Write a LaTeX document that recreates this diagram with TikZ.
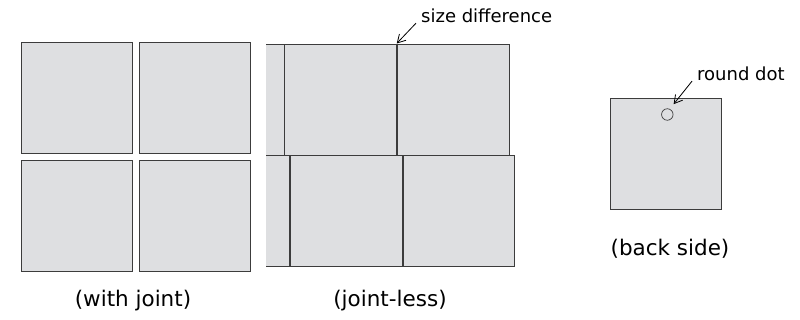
\documentclass[tikz,border=0pt]{standalone}
\usepackage{fontspec}
\setmainfont{DejaVu Sans}
\usepackage{xcolor}
\usepackage{tikz}
\usetikzlibrary{positioning, arrows.meta}
\definecolor{tilegray}{HTML}{DEDFE1}
\definecolor{edgegray}{HTML}{3C3C3C}
\tikzset{
  tile/.style={draw=edgegray, fill=tilegray, line width=0.9pt, inner sep=0pt,
               minimum width=111pt, minimum height=111pt},
  jtile/.style={tile, minimum width=111.7pt, minimum height=110.9pt},
  hole/.style={draw=edgegray, circle, line width=0.7pt, minimum size=11.5pt, inner sep=0pt},
  note/.style={font=\fontsize{18}{20}\selectfont, inner sep=1pt, anchor=west},
  captxt/.style={font=\fontsize{21.5}{24}\selectfont},
  pointer/.style={-{Straight Barb[length=2.8mm, width=3.2mm]}, line width=0.8pt}
}

\begin{document}
\begin{tikzpicture}[x=1pt, y=-1pt, node distance=7pt]
  \useasboundingbox (0,0) rectangle (800,320);
  % with joint
  \node[tile] (wj1) at (76.5,97.5) {};
  \node[tile, right=of wj1] (wj2) {};
  \node[tile, below=of wj1] (wj3) {};
  \node[tile, right=of wj3] (wj4) {};
  \node[captxt] (wjcap) at (133,301) {(with joint)};
  % joint-less, cut at the left
  \begin{scope}
    \clip (266,30) rectangle (530,280);
    \node[jtile] (jt0) at (228.15,100.35) {};
    \node[jtile, right=0pt of jt0] (jt1) {};
    \node[jtile, right=0pt of jt1] (jt2) {};
    \node[jtile] (jb0) at (233.6,211.2) {};
    \node[jtile, right=0pt of jb0] (jb1) {};
    \node[jtile, right=0pt of jb1] (jb2) {};
  \end{scope}
  \node[captxt] (jlcap) at (390,301) {(joint-less)};
  \node[note] (diff) at (420,16) {size difference};
  \coordinate (seam) at (396.7,43.5);
  \draw[pointer] ([xshift=-4pt,yshift=1pt]diff.south west) -- (seam);
  % back side
  \node[tile] (back) at (666.2,153.7) {};
  \node[hole] (dot) at (667.3,114.5) {};
  \node[captxt] (bkcap) at (670,249) {(back side)};
  \node[note] (dotlbl) at (696,74) {round dot};
  \draw[pointer] ([xshift=-4pt,yshift=1pt]dotlbl.south west) -- ([shift={(2pt,6pt)}]dot.north east);
\end{tikzpicture}
\end{document}
